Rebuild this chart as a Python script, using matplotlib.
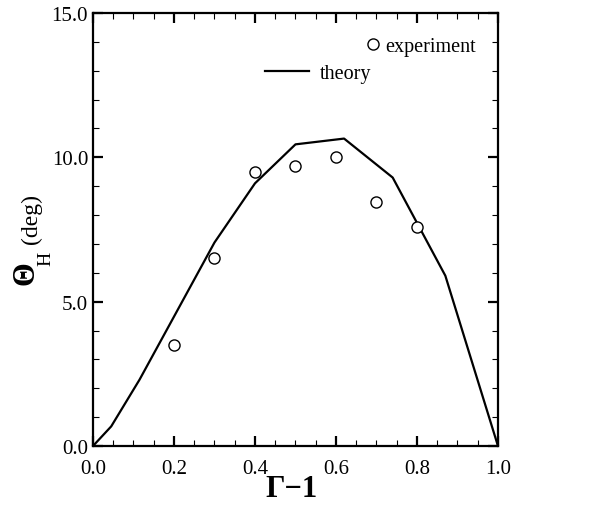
import numpy as np
import matplotlib
matplotlib.use('Agg')
import matplotlib.pyplot as plt
from matplotlib.ticker import MultipleLocator, FormatStrFormatter
from matplotlib.lines import Line2D

plt.rcParams['font.family'] = ['Liberation Serif', 'DejaVu Serif']

# theory curve vertices
theory_x = [0.0, 0.045, 0.115, 0.30, 0.40, 0.50, 0.62, 0.74, 0.87, 1.0]
theory_y = [0.0, 0.68, 2.3, 7.05, 9.1, 10.45, 10.65, 9.3, 5.9, 0.0]

# experimental points
exp_x = [0.2, 0.3, 0.4, 0.5, 0.6, 0.7, 0.8]
exp_y = [3.5, 6.5, 9.5, 9.7, 10.0, 8.45, 7.6]

fig = plt.figure(figsize=(6.09, 5.06), dpi=100)
ax = fig.add_axes([0.1527, 0.1166, 0.665, 0.8557])

ax.plot(theory_x, theory_y, color='black', lw=1.6)
ax.plot(exp_x, exp_y, ls='none', marker='o', ms=8, mfc='white', mec='black', mew=1.0)

ax.set_xlim(0, 1)
ax.set_ylim(0, 15)
ax.xaxis.set_major_locator(MultipleLocator(0.2))
ax.xaxis.set_minor_locator(MultipleLocator(0.05))
ax.yaxis.set_major_locator(MultipleLocator(5))
ax.yaxis.set_minor_locator(MultipleLocator(1))
ax.xaxis.set_major_formatter(FormatStrFormatter('%.1f'))
ax.yaxis.set_major_formatter(FormatStrFormatter('%.1f'))
ax.tick_params(which='both', direction='in', top=True, right=True, labelsize=15)
ax.tick_params(which='major', length=7, width=1.6)
ax.tick_params(which='minor', length=4, width=0.8)
ax.tick_params(axis='x', which='major', pad=9)
for s in ax.spines.values():
    s.set_linewidth(1.6)

# legend, drawn as two pieces to mimic the staggered layout
h_exp = Line2D([], [], ls='none', marker='o', ms=8, mfc='white', mec='black', mew=1.0)
h_th = Line2D([], [], color='black', lw=1.6)
leg1 = ax.legend([h_exp], ['experiment'], loc='center left', bbox_to_anchor=(0.677, 0.923),
                 frameon=False, fontsize=14.5, handlelength=0.6, handletextpad=0.28,
                 borderpad=0, borderaxespad=0)
ax.add_artist(leg1)
ax.legend([h_th], ['theory'], loc='center left', bbox_to_anchor=(0.425, 0.861),
          frameon=False, fontsize=14.5, handlelength=2.2, handletextpad=0.5,
          borderpad=0, borderaxespad=0)

# axis labels
fig.text(0.478, 0.032, 'Γ−1', fontsize=22, fontweight='bold', ha='center', va='center')
fig.text(0.043, 0.460, 'Θ', fontsize=22, fontweight='bold', ha='center', va='center', rotation=90)
fig.text(0.075, 0.489, 'H', fontsize=14, ha='center', va='center', rotation=90)
fig.text(0.052, 0.568, '(deg)', fontsize=17, ha='center', va='center', rotation=90)

fig.savefig('out.png', dpi=100)
